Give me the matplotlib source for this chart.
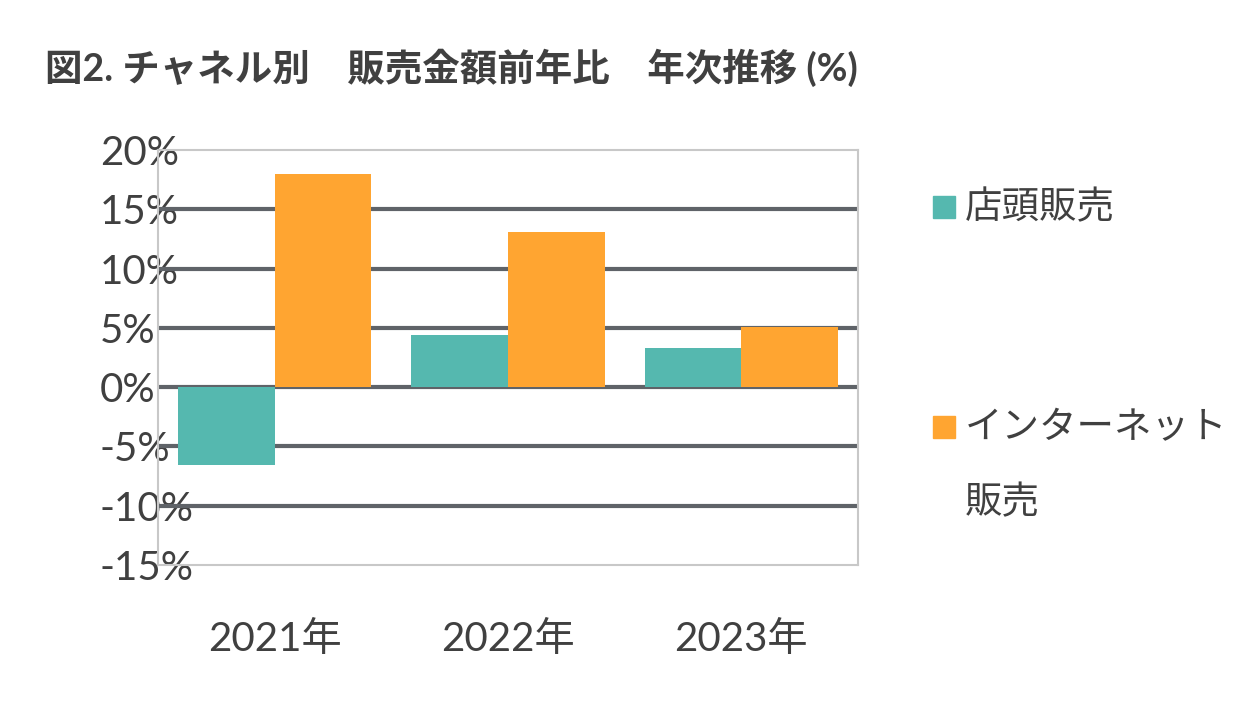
import matplotlib
matplotlib.use("Agg")
import matplotlib.pyplot as plt
from matplotlib.patches import Rectangle
import numpy as np

plt.rcParams['font.family'] = ['Lato', 'Noto Sans CJK JP', 'DejaVu Sans']

years = ["2021年", "2022年", "2023年"]
store = [-6.6, 4.4, 3.3]
internet = [18.0, 13.1, 5.1]
series_names = ["店頭販売", "インターネット\n販売"]
colors = ["#55B8AF", "#FFA531"]
txt = "#404040"

fig = plt.figure(figsize=(12.39, 7.21), dpi=100)
ax = fig.add_axes([158/1239, 1-565/721, 700/1239, 415/721])
x = np.arange(len(years))
w = 0.415
ax.bar(x - w/2, store, w, color=colors[0], zorder=3)
ax.bar(x + w/2, internet, w, color=colors[1], zorder=3)
ax.set_xlim(-0.5, 2.5)
ax.set_ylim(-15, 20)
yt = np.arange(-15, 21, 5)
ax.set_yticks(yt)
ax.set_yticklabels([f"{v}%" for v in yt], fontsize=29, color=txt)
ax.set_xticks(x)
ax.set_xticklabels(years, fontsize=29, color=txt)
ax.tick_params(length=0)
ax.tick_params(axis='y', pad=42)
ax.tick_params(axis='x', pad=40)
for lab in ax.get_yticklabels():
    lab.set_horizontalalignment('left')
    lab.set_x(-0.0)
for v in yt[1:-1]:
    ax.axhline(v, color="#5f6368", lw=3, zorder=2)
for s in ax.spines.values():
    s.set_color("#c8c8c8"); s.set_linewidth(1.5)

fig.text(45/1239, 1-68/721, "図2. チャネル別　販売金額前年比　年次推移 (%)",
         fontsize=27, fontweight='bold', color=txt, va='center')

# legend
for i, yy in enumerate([207, 427]):
    fig.patches.append(Rectangle((933/1239, 1-(yy+11)/721), 22/1239, 22/721,
                                 transform=fig.transFigure, color=colors[i]))
fig.text(965/1239, 1-207/721, series_names[0], fontsize=27, color=txt, va='center')
lines = series_names[1].split("\n")
fig.text(965/1239, 1-427/721, lines[0], fontsize=27, color=txt, va='center')
fig.text(965/1239, 1-502/721, lines[1], fontsize=27, color=txt, va='center')

fig.savefig("out.png", dpi=100)
